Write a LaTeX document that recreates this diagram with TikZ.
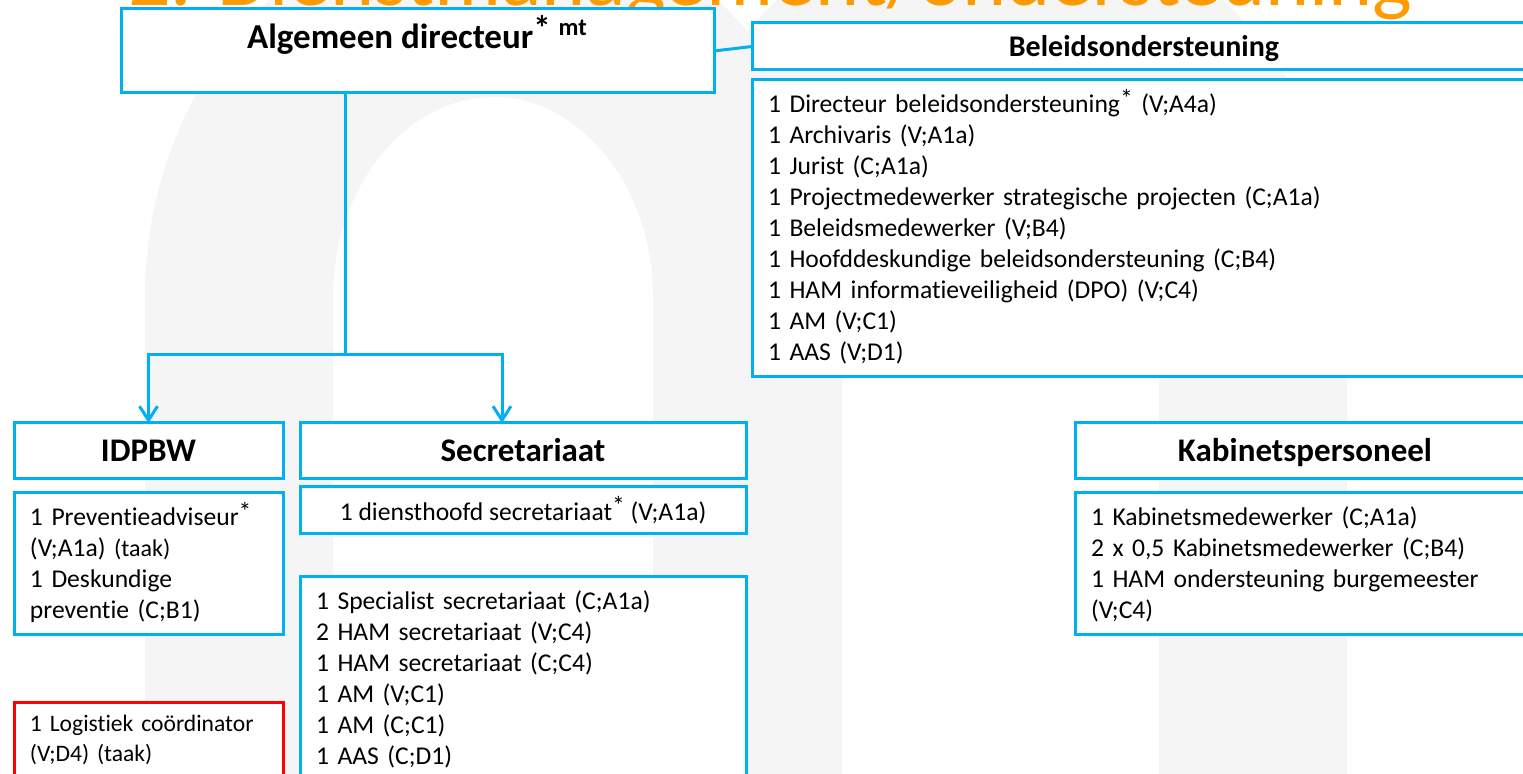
\documentclass[tikz,border=0pt]{standalone}
\usepackage{fontspec}
\setmainfont{Carlito}[Ligatures=NoCommon]
\usetikzlibrary{arrows.meta,positioning}
\definecolor{OrgBlue}{HTML}{00B0F0}
\definecolor{OrgRed}{HTML}{FF0000}
\definecolor{OrgOrange}{HTML}{FF9A00}
\definecolor{OrgShade}{HTML}{F5F5F5}
\newcommand{\topstrut}[1][12pt]{\rule{0pt}{#1}}
\newcommand{\botstrut}{\rule[-3.5pt]{0pt}{3.5pt}}
\newcommand{\upstar}{\raisebox{0.22em}{*}}

\begin{document}
\begin{tikzpicture}[
  x=0.5pt,y=-0.5pt,
  box/.style={draw=OrgBlue,fill=white,line width=1.5pt,inner sep=0pt,outer sep=0pt},
  head/.style={box,font=\bfseries\fontsize{16.5}{19}\selectfont,minimum height=28pt,text height=10.6pt,text depth=0pt},
  list/.style={box,align=left,inner xsep=8pt,inner ysep=4.5pt,font=\fontsize{12.8}{15.5}\selectfont},
  arr/.style={draw=OrgBlue,line width=1.5pt,-{Straight Barb[length=7pt,width=9pt]}},
  conn/.style={draw=OrgBlue,line width=1.5pt}
]
\useasboundingbox (0,0) rectangle (1523,774);
\clip (0,0) rectangle (1523,774);
\fill[OrgShade] (145,774) -- (145,297) .. controls (145,83) and (301,-91) .. (493.5,-91) .. controls (686,-91) and (842,83) .. (842,297) -- (842,774) -- (653,774) -- (653,297) .. controls (653,187) and (581,97) .. (493.5,97) .. controls (406,97) and (333,187) .. (333,297) -- (333,774) -- cycle;
\fill[OrgShade] (653,774) -- (653,297) .. controls (653,83) and (808.5,-91) .. (1000,-91) .. controls (1191.5,-91) and (1347,83) .. (1347,297) -- (1347,774) -- (1159,774) -- (1159,297) .. controls (1159,187) and (1088,97) .. (1000.5,97) .. controls (913,97) and (842,187) .. (842,297) -- (842,774) -- cycle;
\node[anchor=base west,inner sep=0pt,text=OrgOrange,font=\fontsize{42}{50}\selectfont] (title) at (128,6) {2. Dienstmanagement/ondersteuning};

\node[box,anchor=north west,minimum width=296.5pt,minimum height=42pt,font=\bfseries\fontsize{17.5}{20}\selectfont,text height=12pt,text depth=14.8pt] (dir) at (121,9) {Algemeen directeur\upstar{} \textsuperscript{mt}};
\node[head,anchor=north west,minimum width=392pt,minimum height=23.5pt,font=\bfseries\fontsize{15}{18}\selectfont,text height=9.7pt] (bel) at (752,23) {Beleidsondersteuning};
\node[list,below=5pt of bel.south west,anchor=north west,text width=376pt] (bellist) {\topstrut 1 Directeur beleidsondersteuning\upstar{} (V;A4a)\\
1 Archivaris (V;A1a)\\
1 Jurist (C;A1a)\\
1 Projectmedewerker strategische projecten (C;A1a)\\
1 Beleidsmedewerker (V;B4)\\
1 Hoofddeskundige beleidsondersteuning (C;B4)\\
1 HAM informatieveiligheid (DPO) (V;C4)\\
1 AM (V;C1)\\
1 AAS (V;D1)\botstrut};

\node[head,anchor=north west,minimum width=134.5pt] (idpbw) at (14,423) {IDPBW};
\node[list,below=7pt of idpbw.south west,anchor=north west,text width=118.5pt] (idpbwlist) {\topstrut 1 Preventieadviseur\upstar\\
(V;A1a) {\fontsize{12}{15.5}\selectfont(taak)}\\
1 Deskundige\\
preventie (C;B1)\botstrut};
\node[list,draw=OrgRed,below=34pt of idpbwlist.south west,anchor=north west,text width=118.5pt,font=\fontsize{11.8}{15}\selectfont] (logist) {\topstrut[10pt]1 Logistiek coördinator\\
(V;D4) (taak)\botstrut};

\node[head,anchor=north west,minimum width=223pt] (secr) at (300,423) {Secretariaat};
\node[box,below=4pt of secr.south west,anchor=north west,minimum width=223pt,minimum height=23.5pt,font=\fontsize{12.8}{15.5}\selectfont] (dienst) {1 diensthoofd secretariaat\upstar{} (V;A1a)};
\node[list,below=21.5pt of dienst.south west,anchor=north west,text width=207pt] (secrlist) {\topstrut 1 Specialist secretariaat (C;A1a)\\
2 HAM secretariaat (V;C4)\\
1 HAM secretariaat (C;C4)\\
1 AM (V;C1)\\
1 AM (C;C1)\\
1 AAS (C;D1)\botstrut};

\node[head,anchor=north west,minimum width=230pt] (kab) at (1075,423) {Kabinetspersoneel};
\node[list,below=7pt of kab.south west,anchor=north west,text width=214pt] (kablist) {\topstrut 1 Kabinetsmedewerker (C;A1a)\\
2 x 0,5 Kabinetsmedewerker (C;B4)\\
1 HAM ondersteuning burgemeester\\
(V;C4)\botstrut};

\coordinate (split) at (345,355);
\draw[conn] (dir.south -| split) -- (split);
\draw[arr] (split) -| (idpbw.north);
\draw[arr] (split) -| ([xshift=-10.5pt]secr.north);
\draw[conn] (dir.east) -- (bel.west);
\end{tikzpicture}
\end{document}
